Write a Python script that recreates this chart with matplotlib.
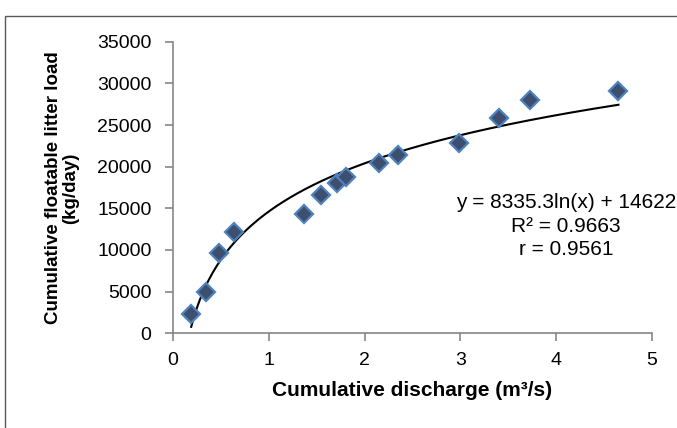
import numpy as np
import matplotlib
matplotlib.use("Agg")
import matplotlib.pyplot as plt
from matplotlib.patches import Rectangle

plt.rcParams['font.family'] = ['Liberation Sans', 'DejaVu Sans']

# Data
discharge = [0.19, 0.34, 0.48, 0.64, 1.37, 1.54, 1.71, 1.81, 2.15, 2.35, 2.99, 3.40, 3.73, 4.65]
litter_load = [2300, 4950, 9650, 12150, 14350, 16650, 18000, 18800, 20400, 21400, 22850, 25800, 28050, 29100]

# Logarithmic trendline coefficients (from the chart label)
fit_a = 8335.3
fit_b = 14622
eq_text = "y = 8335.3ln(x) + 14622\nR² = 0.9663\nr = 0.9561"

x_ticks = [0, 1, 2, 3, 4, 5]
y_ticks = [0, 5000, 10000, 15000, 20000, 25000, 30000, 35000]

W, H = 677, 428
fig = plt.figure(figsize=(W/100, H/100), dpi=100)
# outer chart frame
fig.patches.append(Rectangle((5/W, -0.1), 1.2, (H-16)/H + 0.1, transform=fig.transFigure,
                             fill=False, edgecolor='#595959', linewidth=1.0))

ax = fig.add_axes([173/W, (H-333.3)/H, (652-173)/W, (333.3-41.7)/H])
ax.set_xlim(0, 5)
ax.set_ylim(0, 35000)

xs = np.linspace(min(discharge), max(discharge), 200)
ax.plot(xs, fit_a*np.log(xs) + fit_b, color='black', linewidth=1.5, zorder=2)
ax.plot(discharge, litter_load, linestyle='none', marker='D', markersize=9.5,
        markerfacecolor='#3D4E6E', markeredgecolor='#4F81BD', markeredgewidth=1.6, zorder=3)

ax.set_xticks(x_ticks)
ax.set_yticks(y_ticks)
ax.set_xticklabels([str(t) for t in x_ticks])
ax.set_yticklabels([str(t) for t in y_ticks])
for s in ['top', 'right']:
    ax.spines[s].set_visible(False)
for s in ['left', 'bottom']:
    ax.spines[s].set_color('#868686')
    ax.spines[s].set_linewidth(1.2)
ax.tick_params(axis='both', direction='out', length=5.5, width=1.2, color='#868686',
               labelsize=14, labelcolor='black')
ax.tick_params(axis='y', pad=10)
ax.tick_params(axis='x', pad=8)

fig.text(412/W, 1 - 391/H, "Cumulative discharge (m³/s)", fontsize=15, fontweight='bold',
         ha='center', va='center')
fig.text(62/W, 1 - 188/H, "Cumulative floatable litter load\n(kg/day)", fontsize=13.5,
         fontweight='bold', ha='center', va='center', rotation=90, linespacing=1.0,
         multialignment='center')

fig.text(566/W, 1 - 226/H, eq_text, ha='center', va='center', fontsize=15,
         linespacing=1.3, multialignment='center')

fig.savefig("out.png", dpi=100)
